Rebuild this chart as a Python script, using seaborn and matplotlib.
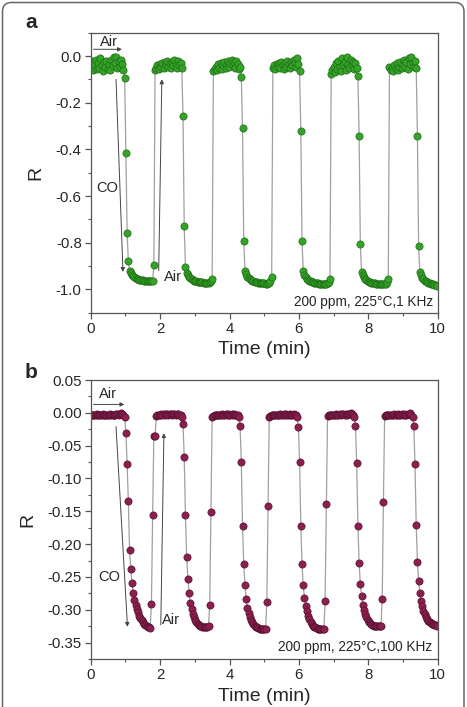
import numpy as np
import pandas as pd
import seaborn as sns
import matplotlib.pyplot as plt
from matplotlib.ticker import MultipleLocator, FormatStrFormatter
from matplotlib.patches import FancyBboxPatch
from matplotlib.transforms import IdentityTransform

# -----------------------------------------------------------------------------
# DATOS (R, muestreo constante cada DT minutos)
# -----------------------------------------------------------------------------
DT = 0.035  # min entre puntos

# panel a: 200 ppm, 225°C, 1 KHz
a_air1 = [-0.045, -0.020, -0.060, -0.035, -0.015, -0.055, -0.030, -0.050, -0.010, -0.040,
          -0.065, -0.025, -0.045, -0.020, -0.055, -0.035, -0.060, -0.015, -0.040, -0.005,
          -0.030, -0.002, -0.050, -0.020, -0.045, -0.015, -0.035, -0.060]
a_co1 = [-0.096, -0.414, -0.758, -0.880, -0.920,
         -0.930, -0.938, -0.944, -0.948, -0.951, -0.954, -0.956, -0.958, -0.959, -0.960,
         -0.961, -0.962, -0.963, -0.964, -0.964, -0.965, -0.965, -0.966, -0.966, -0.895]
a_air2 = [-0.060, -0.050, -0.040, -0.055, -0.035, -0.045, -0.030, -0.050, -0.025, -0.040,
          -0.020, -0.045, -0.030, -0.050, -0.025, -0.040, -0.015, -0.035, -0.050, -0.020,
          -0.040, -0.030, -0.050]
a_co2 = [-0.256, -0.729, -0.903, -0.930,
         -0.940, -0.947, -0.952, -0.956, -0.959, -0.962, -0.964, -0.966, -0.967, -0.968,
         -0.969, -0.970, -0.970, -0.971, -0.971, -0.972, -0.972, -0.971, -0.970, -0.965, -0.955]
a_air3 = [-0.063, -0.055, -0.045, -0.060, -0.035, -0.050, -0.030, -0.055, -0.040, -0.025,
          -0.050, -0.035, -0.020, -0.045, -0.030, -0.015, -0.040, -0.025, -0.050, -0.020,
          -0.035, -0.055, -0.045]
a_co3 = [-0.089, -0.309, -0.791, -0.920,
         -0.935, -0.945, -0.952, -0.957, -0.961, -0.964, -0.966, -0.968, -0.969, -0.970,
         -0.971, -0.972, -0.973, -0.973, -0.974, -0.974, -0.975, -0.975, -0.974, -0.972,
         -0.965, -0.946]
a_air4 = [-0.050, -0.040, -0.055, -0.035, -0.045, -0.030, -0.050, -0.025, -0.040, -0.055,
          -0.030, -0.045, -0.020, -0.035, -0.050, -0.025, -0.040, -0.015, -0.030, -0.045,
          -0.010, -0.035, -0.065]
a_co4 = [-0.322, -0.794, -0.923,
         -0.937, -0.947, -0.954, -0.959, -0.963, -0.966, -0.968, -0.970, -0.971, -0.972,
         -0.973, -0.974, -0.975, -0.975, -0.976, -0.976, -0.977, -0.977, -0.976, -0.974,
         -0.968, -0.955]
a_air5 = [-0.077, -0.060, -0.045, -0.070, -0.030, -0.055, -0.020, -0.045, -0.065, -0.010,
          -0.040, -0.025, -0.060, -0.005, -0.035, -0.050, -0.015, -0.040, -0.025, -0.055,
          -0.030, -0.050]
a_co5 = [-0.086, -0.342, -0.804, -0.927,
         -0.938, -0.948, -0.955, -0.960, -0.964, -0.967, -0.969, -0.971, -0.972, -0.973,
         -0.974, -0.975, -0.976, -0.976, -0.977, -0.977, -0.978, -0.978, -0.977, -0.975,
         -0.969, -0.955]
a_air6 = [-0.046, -0.060, -0.050, -0.065, -0.040, -0.055, -0.030, -0.060, -0.045, -0.025,
          -0.050, -0.035, -0.015, -0.045, -0.025, -0.055, -0.010, -0.035, -0.004, -0.030,
          -0.045, -0.020, -0.050]
a_co6 = [-0.342, -0.815, -0.927,
         -0.940, -0.950, -0.957, -0.962, -0.966, -0.969, -0.972, -0.974, -0.976, -0.978,
         -0.979, -0.981, -0.982, -0.984]

# panel b: 200 ppm, 225°C, 100 KHz
b_air1 = [-0.004, -0.003, -0.003, -0.004, -0.003, -0.002, -0.003, -0.003, -0.004, -0.003,
          -0.002, -0.003, -0.003, -0.004, -0.003, -0.003, -0.002, -0.003, -0.003, -0.004,
          -0.003, -0.002, -0.002, -0.003, -0.002, -0.001, -0.002, -0.004, -0.007]
b_co1 = [-0.030, -0.0775, -0.134, -0.209, -0.238, -0.259, -0.274, -0.285, -0.293, -0.299,
         -0.304, -0.309, -0.313, -0.316, -0.319, -0.321, -0.323, -0.325, -0.326, -0.327,
         -0.328, -0.291, -0.156, -0.036, -0.036]
b_air2 = [-0.005, -0.004, -0.003, -0.003, -0.002, -0.003, -0.002, -0.003, -0.002, -0.002,
          -0.003, -0.002, -0.002, -0.003, -0.002, -0.002, -0.003, -0.002, -0.002, -0.003,
          -0.004, -0.006]
b_co2 = [-0.017, -0.067, -0.156, -0.219, -0.253, -0.275, -0.289, -0.299, -0.306, -0.311,
         -0.315, -0.318, -0.321, -0.323, -0.324, -0.325, -0.326, -0.327, -0.327, -0.327,
         -0.326, -0.325, -0.292, -0.151]
b_air3 = [-0.006, -0.005, -0.004, -0.004, -0.003, -0.004, -0.003, -0.003, -0.002, -0.003,
          -0.003, -0.002, -0.003, -0.002, -0.003, -0.003, -0.002, -0.003, -0.002, -0.003,
          -0.003, -0.004, -0.006]
b_co3 = [-0.020, -0.075, -0.172, -0.231, -0.263, -0.283, -0.297, -0.305, -0.311, -0.316,
         -0.319, -0.322, -0.324, -0.326, -0.327, -0.328, -0.329, -0.330, -0.330, -0.330,
         -0.329, -0.330, -0.288, -0.142]
b_air4 = [-0.006, -0.005, -0.004, -0.004, -0.003, -0.004, -0.003, -0.003, -0.003, -0.002,
          -0.003, -0.003, -0.002, -0.003, -0.002, -0.003, -0.003, -0.002, -0.003, -0.003,
          -0.002, -0.003, -0.004, -0.006]
b_co4 = [-0.021, -0.075, -0.172, -0.231, -0.263, -0.282, -0.294, -0.302, -0.309, -0.314,
         -0.318, -0.321, -0.324, -0.326, -0.327, -0.328, -0.329, -0.330, -0.330, -0.330,
         -0.329, -0.329, -0.286, -0.139]
b_air5 = [-0.005, -0.004, -0.004, -0.003, -0.003, -0.004, -0.003, -0.002, -0.003, -0.003,
          -0.002, -0.003, -0.002, -0.002, -0.003, -0.002, -0.003, -0.002, -0.002, -0.001,
          -0.002, -0.004, -0.007]
b_co5 = [-0.020, -0.077, -0.172, -0.229, -0.261, -0.279, -0.292, -0.300, -0.306, -0.311,
         -0.315, -0.318, -0.320, -0.322, -0.323, -0.324, -0.325, -0.325, -0.325, -0.325,
         -0.324, -0.325, -0.284, -0.136]
b_air6 = [-0.005, -0.004, -0.004, -0.003, -0.004, -0.003, -0.003, -0.003, -0.002, -0.003,
          -0.003, -0.002, -0.003, -0.003, -0.002, -0.003, -0.002, -0.003, -0.003, -0.002,
          -0.002, -0.001, -0.004, -0.007]
b_co6 = [-0.020, -0.0775, -0.171, -0.227, -0.256, -0.275, -0.286, -0.295, -0.302, -0.307,
         -0.311, -0.314, -0.317, -0.319, -0.320, -0.321, -0.322, -0.323, -0.323, -0.324]

a_r = (a_air1 + a_co1 + a_air2 + a_co2 + a_air3 + a_co3 +
       a_air4 + a_co4 + a_air5 + a_co5 + a_air6 + a_co6)
b_r = (b_air1 + b_co1 + b_air2 + b_co2 + b_air3 + b_co3 +
       b_air4 + b_co4 + b_air5 + b_co5 + b_air6 + b_co6)

df_a = pd.DataFrame({"Time": np.arange(len(a_r)) * DT, "R": a_r})
df_b = pd.DataFrame({"Time": np.arange(len(b_r)) * DT, "R": b_r})

# -----------------------------------------------------------------------------
# ESTILO
# -----------------------------------------------------------------------------
sns.set_style("ticks")
plt.rcParams["font.family"] = ["Liberation Sans", "DejaVu Sans"]
plt.rcParams["axes.unicode_minus"] = False

SPINE = "#555555"
LINE = "#a0a0a0"
ARROW = "#444444"

fig = plt.figure(figsize=(4.67, 7.07), dpi=100)
ax_a = fig.add_axes([0.1942, 0.5577, 0.7431, 0.3960])
ax_b = fig.add_axes([0.1942, 0.0679, 0.7431, 0.3946])


def draw_panel(ax, df, face, edge, ylim, ymaj, ymin, fmt):
    sns.lineplot(data=df, x="Time", y="R", ax=ax, color=LINE, lw=0.9,
                 sort=False, zorder=1)
    sns.scatterplot(data=df, x="Time", y="R", ax=ax, s=27, color=face,
                    edgecolor=edge, linewidth=0.5, zorder=2)
    ax.set_xlim(0, 10)
    ax.set_ylim(*ylim)
    ax.xaxis.set_major_locator(MultipleLocator(2))
    ax.xaxis.set_minor_locator(MultipleLocator(1))
    ax.yaxis.set_major_locator(MultipleLocator(ymaj))
    ax.yaxis.set_minor_locator(MultipleLocator(ymin))
    ax.yaxis.set_major_formatter(FormatStrFormatter(fmt))
    ax.tick_params(which="major", direction="out", length=4, width=0.9,
                   color=SPINE, labelsize=10.8, pad=2.5)
    ax.tick_params(which="minor", direction="out", length=2.2, width=0.8,
                   color=SPINE)
    for sp in ax.spines.values():
        sp.set_visible(True)
        sp.set_color(SPINE)
        sp.set_linewidth(0.9)
    ax.set_xlabel("Time (min)", fontsize=14, labelpad=4)
    ax.set_ylabel("R", fontsize=14, labelpad=8)


def arrow(ax, start, end):
    ax.annotate("", xy=end, xytext=start,
                arrowprops=dict(arrowstyle="-|>", color=ARROW, lw=0.7,
                                mutation_scale=6, shrinkA=0, shrinkB=0))


draw_panel(ax_a, df_a, "#36a229", "#1b6e12", (-1.1, 0.1), 0.2, 0.1, "%.1f")
draw_panel(ax_b, df_b, "#8c1f50", "#55102e", (-0.375, 0.05), 0.05, 0.025, "%.2f")

# anotaciones panel a
ax_a.text(0.53, 0.060, "Air", fontsize=10.5, ha="center", va="center")
arrow(ax_a, (0.08, 0.029), (0.90, 0.029))
ax_a.text(0.47, -0.566, "CO", fontsize=10.5, ha="center", va="center")
arrow(ax_a, (0.73, -0.10), (0.93, -0.925))
arrow(ax_a, (1.96, -0.92), (2.05, -0.10))
ax_a.text(2.36, -0.948, "Air", fontsize=10.5, ha="center", va="center")
ax_a.text(9.86, -1.056, "200 ppm, 225°C,1 KHz", fontsize=9.8,
          ha="right", va="center")

# anotaciones panel b
ax_b.text(0.49, 0.029, "Air", fontsize=10.5, ha="center", va="center")
arrow(ax_b, (0.08, 0.0128), (0.97, 0.0128))
ax_b.text(0.54, -0.250, "CO", fontsize=10.5, ha="center", va="center")
arrow(ax_b, (0.73, -0.021), (1.06, -0.326))
arrow(ax_b, (2.02, -0.323), (2.11, -0.031))
ax_b.text(2.32, -0.316, "Air", fontsize=10.5, ha="center", va="center")
ax_b.text(9.84, -0.356, "200 ppm, 225°C,100 KHz", fontsize=9.8,
          ha="right", va="center")

# letras de panel
fig.text(31 / 467, 1 - 23 / 707, "a", fontsize=15, fontweight="bold",
         ha="center", va="center")
fig.text(31 / 467, 1 - 373 / 707, "b", fontsize=15, fontweight="bold",
         ha="center", va="center")

# marco redondeado de la imagen
frame = FancyBboxPatch((2.5, -30), 461.5, 734.5,
                       boxstyle="round,pad=0,rounding_size=9",
                       transform=IdentityTransform(), fill=False,
                       edgecolor="#666666", linewidth=1.1)
fig.patches.append(frame)

fig.savefig("out.png", dpi=100)
plt.close(fig)
